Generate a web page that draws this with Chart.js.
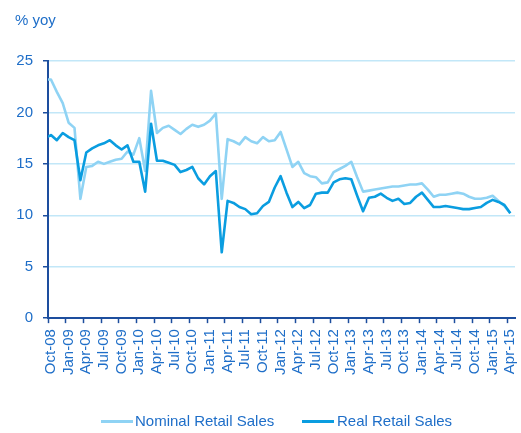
<!DOCTYPE html>
<html>
<head>
<meta charset="utf-8">
<script src="https://cdn.jsdelivr.net/npm/chart.js@4.4.1/dist/chart.umd.min.js"></script>
<style>
  html, body { margin: 0; padding: 0; background: #fff; }
  #wrap { position: relative; width: 521px; height: 433px; }
  #legend { position: absolute; left: 0; top: 0; width: 521px; height: 433px; pointer-events: none; }
  .lg-line { position: absolute; height: 3px; }
  .lg-text { position: absolute; font: 15px "Liberation Sans", Arial, sans-serif; color: #1e6ec8; line-height: 18px; white-space: nowrap; }
</style>
</head>
<body>
<div id="wrap">
  <canvas id="retailChart" width="521" height="433"></canvas>
  <div id="legend"></div>
</div>
<script>
// monthly, Sep-08 .. Apr-15 (Sep-08 sits just left of the axis and gets clipped)
const months = [
  'Sep-08', 'Oct-08', 'Nov-08', 'Dec-08',
  'Jan-09', 'Feb-09', 'Mar-09', 'Apr-09', 'May-09', 'Jun-09', 'Jul-09', 'Aug-09', 'Sep-09', 'Oct-09', 'Nov-09', 'Dec-09',
  'Jan-10', 'Feb-10', 'Mar-10', 'Apr-10', 'May-10', 'Jun-10', 'Jul-10', 'Aug-10', 'Sep-10', 'Oct-10', 'Nov-10', 'Dec-10',
  'Jan-11', 'Feb-11', 'Mar-11', 'Apr-11', 'May-11', 'Jun-11', 'Jul-11', 'Aug-11', 'Sep-11', 'Oct-11', 'Nov-11', 'Dec-11',
  'Jan-12', 'Feb-12', 'Mar-12', 'Apr-12', 'May-12', 'Jun-12', 'Jul-12', 'Aug-12', 'Sep-12', 'Oct-12', 'Nov-12', 'Dec-12',
  'Jan-13', 'Feb-13', 'Mar-13', 'Apr-13', 'May-13', 'Jun-13', 'Jul-13', 'Aug-13', 'Sep-13', 'Oct-13', 'Nov-13', 'Dec-13',
  'Jan-14', 'Feb-14', 'Mar-14', 'Apr-14', 'May-14', 'Jun-14', 'Jul-14', 'Aug-14', 'Sep-14', 'Oct-14', 'Nov-14', 'Dec-14',
  'Jan-15', 'Feb-15', 'Mar-15', 'Apr-15'
];

const nominalSales = [
  23.2, 23.2, 22.0, 20.9,
  19.0, 18.5, 11.6, 14.7, 14.8, 15.2, 15.0, 15.2, 15.4, 15.5, 16.2, 15.9,
  17.5, 14.3, 22.1, 18.0, 18.5, 18.7, 18.3, 17.9, 18.4, 18.8, 18.6, 18.8,
  19.2, 19.9, 11.6, 17.4, 17.2, 16.9, 17.6, 17.2, 17.0, 17.6, 17.2, 17.3,
  18.1, 16.4, 14.7, 15.2, 14.1, 13.8, 13.7, 13.1, 13.2, 14.2, 14.5, 14.8,
  15.2, 13.7, 12.3, 12.4, 12.5, 12.6, 12.7, 12.8, 12.8, 12.9, 13.0, 13.0,
  13.1, 12.5, 11.8, 12.0, 12.0, 12.1, 12.2, 12.1, 11.8, 11.6, 11.6, 11.7,
  11.9, 11.4, 10.9, 10.2
];

const realSales = [
  17.5, 17.8, 17.3, 18.0,
  17.6, 17.3, 13.4, 16.1, 16.5, 16.8, 17.0, 17.3, 16.8, 16.4, 16.8, 15.2,
  15.2, 12.3, 18.9, 15.3, 15.3, 15.1, 14.9, 14.2, 14.4, 14.7, 13.6, 13.0,
  13.8, 14.3, 6.4, 11.4, 11.2, 10.8, 10.6, 10.1, 10.2, 10.9, 11.3, 12.7,
  13.8, 12.2, 10.8, 11.3, 10.7, 11.0, 12.1, 12.2, 12.2, 13.2, 13.5, 13.6,
  13.5, 11.9, 10.4, 11.7, 11.8, 12.1, 11.7, 11.4, 11.6, 11.1, 11.2, 11.8,
  12.2, 11.5, 10.8, 10.8, 10.9, 10.8, 10.7, 10.6, 10.6, 10.7, 10.8, 11.2,
  11.5, 11.3, 11.0, 10.2
];

const tickLabels = [
  'Oct-08', 'Jan-09', 'Apr-09', 'Jul-09', 'Oct-09', 'Jan-10', 'Apr-10', 'Jul-10', 'Oct-10',
  'Jan-11', 'Apr-11', 'Jul-11', 'Oct-11', 'Jan-12', 'Apr-12', 'Jul-12', 'Oct-12', 'Jan-13',
  'Apr-13', 'Jul-13', 'Oct-13', 'Jan-14', 'Apr-14', 'Jul-14', 'Oct-14', 'Jan-15', 'Apr-15'
];

const seriesNames = ['Nominal Retail Sales', 'Real Retail Sales'];
const yTicks = [0, 5, 10, 15, 20, 25];

const textBlue = '#1e6ec8';
const axisBlue = '#1d4e9e';
const gridBlue = '#c2e7f8';
const lightLine = '#8fd3f4';
const darkLine = '#0a9de0';
const font = { family: '"Liberation Sans", Arial, sans-serif', size: 15 };

// month m sits mid-month: Oct-08 -> 0.5, so ticks (month starts) land on whole numbers
const toPoints = vals => vals.map((v, i) => ({ x: i - 0.5, y: v }));

const lineStyle = { pointRadius: 0, borderWidth: 2.6, tension: 0, borderJoinStyle: 'round', fill: false, clip: 0 };

const chart = new Chart(document.getElementById('retailChart').getContext('2d'), {
  type: 'line',
  data: {
    datasets: [
      // real drawn on top, so it goes first
      { label: seriesNames[1], data: toPoints(realSales), borderColor: darkLine, ...lineStyle },
      { label: seriesNames[0], data: toPoints(nominalSales), borderColor: lightLine, ...lineStyle }
    ]
  },
  options: {
    responsive: false,
    animation: false,
    layout: { padding: { left: 15, right: 6, top: 0, bottom: 52 } },
    plugins: {
      legend: { display: false },
      tooltip: { enabled: false },
      title: {
        display: true, text: '% yoy', align: 'start', color: textBlue, font: { ...font, weight: 'normal' },
        padding: { top: 12, bottom: 31 }
      }
    },
    scales: {
      x: {
        type: 'linear', min: 0, max: 79.3,
        afterBuildTicks: axis => { axis.ticks = tickLabels.map((_, i) => ({ value: i * 3 })); },
        afterFit: axis => { axis.paddingLeft = 0; axis.paddingRight = 0; },
        ticks: {
          autoSkip: false, minRotation: 90, maxRotation: 90, padding: 6, labelOffset: 3, color: textBlue, font,
          callback: (v, i) => tickLabels[i]
        },
        grid: { drawOnChartArea: false, drawTicks: true, tickLength: 5, tickColor: axisBlue, tickWidth: 1.5 },
        border: { color: axisBlue, width: 2 }
      },
      y: {
        min: 0, max: 25,
        afterBuildTicks: axis => { axis.ticks = yTicks.map(v => ({ value: v })); },
        afterFit: axis => { axis.width = 33; },
        ticks: { padding: 10, color: textBlue, font },
        grid: { color: gridBlue, lineWidth: 1.5, tickLength: 5, tickColor: axisBlue, tickWidth: 1.5 },
        border: { color: axisBlue, width: 2 }
      }
    }
  }
});

// legend below the axis, built from the datasets
const legend = document.getElementById('legend');
const legendItems = [
  { name: seriesNames[0], color: lightLine, lineX: 101, textX: 135 },
  { name: seriesNames[1], color: darkLine, lineX: 302, textX: 337 }
];
legend.innerHTML = legendItems.map(it => `
  <div class="lg-line" style="left:${it.lineX}px; top:420px; width:32px; background:${it.color}"></div>
  <div class="lg-text" style="left:${it.textX}px; top:412px">${it.name}</div>
`).join('');
</script>
</body>
</html>
